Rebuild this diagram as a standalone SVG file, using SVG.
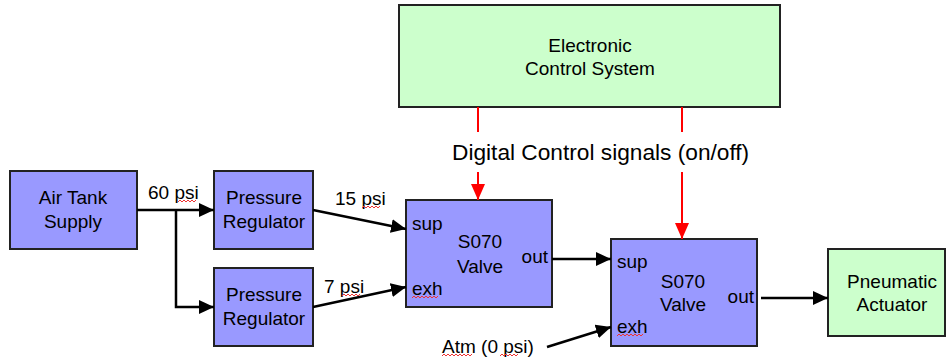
<svg xmlns="http://www.w3.org/2000/svg" width="946" height="362" viewBox="0 0 946 362">
<defs>
<marker id="ab" viewBox="0 0 15 14" refX="15" refY="7" markerWidth="15" markerHeight="14" markerUnits="userSpaceOnUse" orient="auto"><path d="M0,0 L15,7 L0,14 Z" fill="#000"/></marker>
<marker id="ar" viewBox="0 0 16 14" refX="16" refY="7" markerWidth="16" markerHeight="14" markerUnits="userSpaceOnUse" orient="auto"><path d="M0,0 L16,7 L0,14 Z" fill="#f00"/></marker>
</defs>
<style>
text{font-family:"Liberation Sans",Arial,sans-serif;font-size:19px;fill:#000}
.c{text-anchor:middle}
.blue{fill:#9999ff;stroke:#222;stroke-width:2}
.green{fill:#ccffcc;stroke:#222;stroke-width:2}
.bl{stroke:#000;stroke-width:2.5;fill:none}
.rd{stroke:#f00;stroke-width:2;fill:none}
.sq{stroke:#e33;stroke-width:1;fill:none}
</style>
<rect width="946" height="362" fill="#fff"/>
<g id="ecs"><rect class="green" x="399" y="5" width="381" height="102"/><text class="c" x="590" y="52">Electronic</text><text class="c" x="590" y="75">Control System</text></g>
<g id="airtank"><rect class="blue" x="10" y="171" width="127" height="78"/><text class="c" x="73" y="204">Air Tank</text><text class="c" x="73" y="228">Supply</text></g>
<g id="reg1"><rect class="blue" x="214" y="171" width="99" height="78"/><text class="c" x="264" y="204">Pressure</text><text class="c" x="264" y="228">Regulator</text></g>
<g id="reg2"><rect class="blue" x="214" y="268" width="99" height="78"/><text class="c" x="264" y="301">Pressure</text><text class="c" x="264" y="325">Regulator</text></g>
<g id="valve1"><rect class="blue" x="406" y="200" width="146" height="107"/><text x="412" y="230">sup</text><text x="412" y="295">exh</text><text class="c" x="480" y="248">S070</text><text class="c" x="480" y="273">Valve</text><text x="548" y="263" text-anchor="end">out</text></g>
<g id="valve2"><rect class="blue" x="611" y="239" width="146" height="107"/><text x="617" y="268">sup</text><text x="617" y="333">exh</text><text class="c" x="683" y="288">S070</text><text class="c" x="683" y="311">Valve</text><text x="754" y="303" text-anchor="end">out</text></g>
<g id="actuator"><rect class="green" x="828" y="249" width="117" height="87"/><text class="c" x="892" y="288">Pneumatic</text><text class="c" x="892" y="311">Actuator</text></g>
<g id="connectors">
<path class="bl" d="M137,210 H214" marker-end="url(#ab)"/>
<path class="bl" d="M176,210 V307 H214" marker-end="url(#ab)"/>
<path class="bl" d="M313,210 L406,229" marker-end="url(#ab)"/>
<path class="bl" d="M313,307 L406,287" marker-end="url(#ab)"/>
<path class="bl" d="M552,259 H611" marker-end="url(#ab)"/>
<path class="bl" d="M547,347 L611,327" marker-end="url(#ab)"/>
<path class="bl" d="M761,298 H828" marker-end="url(#ab)"/>
<path class="rd" d="M478,107 V132"/>
<path class="rd" d="M478,172 V200" marker-end="url(#ar)"/>
<path class="rd" d="M682,107 V132"/>
<path class="rd" d="M682,172 V239" marker-end="url(#ar)"/>
<text x="148" y="199">60 psi</text>
<text x="335" y="205">15 psi</text>
<text x="324" y="293">7 psi</text>
<text x="442" y="353">Atm (0 psi)</text>
<text x="452" y="160" style="font-size:22.7px">Digital Control signals (on/off)</text>
</g>
<g id="spellmarks">
<path class="sq" d="M178,202 l2,-2 l2,2 l2,-2 l2,2 l2,-2 l2,2 l2,-2 l2,2 l2,-2"/>
<path class="sq" d="M362,208 l2,-2 l2,2 l2,-2 l2,2 l2,-2 l2,2 l2,-2 l2,2 l2,-2"/>
<path class="sq" d="M342,296 l2,-2 l2,2 l2,-2 l2,2 l2,-2 l2,2 l2,-2 l2,2 l2,-2"/>
<path class="sq" d="M412,298 l2,-2 l2,2 l2,-2 l2,2 l2,-2 l2,2 l2,-2 l2,2 l2,-2 l2,2 l2,-2 l2,2 l2,-2"/>
<path class="sq" d="M617,336 l2,-2 l2,2 l2,-2 l2,2 l2,-2 l2,2 l2,-2 l2,2 l2,-2 l2,2 l2,-2 l2,2 l2,-2"/>
<path class="sq" d="M442,356 l2,-2 l2,2 l2,-2 l2,2 l2,-2 l2,2 l2,-2 l2,2 l2,-2 l2,2 l2,-2 l2,2 l2,-2 l2,2 l2,-2"/>
<path class="sq" d="M500,356 l2,-2 l2,2 l2,-2 l2,2 l2,-2 l2,2 l2,-2 l2,2 l2,-2"/>
</g>
</svg>
